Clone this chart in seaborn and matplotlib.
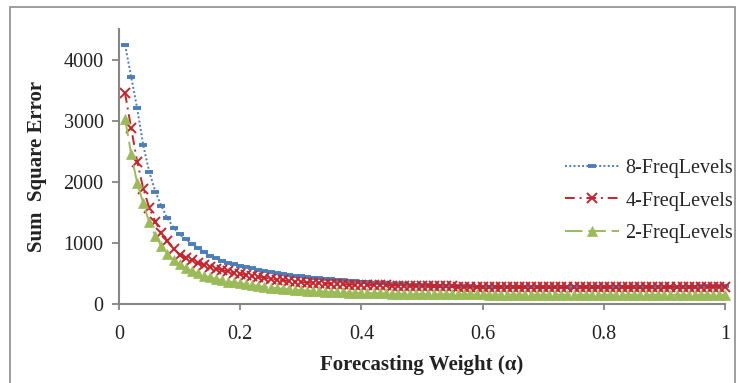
import numpy as np
import pandas as pd
import matplotlib
matplotlib.use("Agg")
import matplotlib.pyplot as plt
from matplotlib.lines import Line2D
import seaborn as sns

# Forecasting weight alpha, 0.01 .. 1.00
alpha = [round(0.01 * i, 2) for i in range(1, 101)]

sse_8 = [
    4240, 3720, 3200, 2600, 2160, 1840, 1600, 1400, 1250, 1140,
    1060, 990, 920, 850, 790, 745, 705, 675, 650, 630,
    610, 585, 560, 540, 522, 505, 490, 477, 465, 453,
    442, 432, 422, 413, 404, 396, 388, 380, 372, 365,
    357, 349, 342, 336, 330, 325, 320, 316, 312, 308,
    305, 302, 299, 296, 293, 291, 289, 287, 285, 283,
    282, 281, 280, 279, 278, 277, 277, 276, 276, 275,
    275, 275, 274, 274, 274, 274, 274, 274, 274, 275,
    275, 275, 276, 276, 277, 277, 278, 279, 280, 281,
    282, 283, 284, 285, 286, 287, 288, 289, 290, 292,
]

sse_4 = [
    3450, 2880, 2330, 1890, 1570, 1350, 1160, 1030, 900, 800,
    760, 715, 675, 640, 610, 580, 555, 535, 512, 493,
    475, 460, 445, 430, 415, 400, 388, 377, 367, 358,
    351, 345, 339, 334, 329, 325, 321, 318, 315, 312,
    310, 308, 306, 304, 302, 300, 298, 296, 295, 293,
    292, 290, 289, 288, 287, 286, 285, 284, 283, 282,
    281, 280, 280, 279, 279, 278, 278, 277, 277, 277,
    276, 276, 276, 276, 276, 276, 276, 276, 276, 276,
    276, 276, 277, 277, 277, 277, 278, 278, 278, 279,
    279, 279, 280, 280, 281, 281, 282, 282, 283, 283,
]

sse_2 = [
    3030, 2460, 1980, 1650, 1335, 1115, 950, 820, 720, 650,
    590, 540, 500, 465, 435, 410, 388, 368, 352, 337,
    322, 308, 295, 282, 270, 258, 248, 240, 232, 225,
    219, 213, 208, 203, 199, 195, 191, 188, 185, 182,
    179, 176, 174, 172, 170, 168, 167, 165, 164, 163,
    162, 161, 160, 159, 158, 158, 157, 157, 156, 156,
    155, 155, 155, 154, 154, 154, 153, 153, 153, 153,
    152, 152, 152, 152, 152, 151, 151, 151, 151, 151,
    151, 151, 151, 151, 151, 151, 151, 151, 151, 151,
    151, 151, 151, 151, 151, 151, 151, 151, 151, 151,
]

series_names = ["8-FreqLevels", "4-FreqLevels", "2-FreqLevels"]
x_ticks = [0, 0.2, 0.4, 0.6, 0.8, 1]
x_tick_labels = ["0", "0.2", "0.4", "0.6", "0.8", "1"]
y_ticks = [0, 1000, 2000, 3000, 4000]

sns.set_theme(style="white")
plt.rcParams["font.family"] = ["Liberation Serif", "DejaVu Serif"]

fig = plt.figure(figsize=(7.45, 3.83), dpi=100)
ax = fig.add_axes([119 / 745, 1 - 304 / 383, 606 / 745, 275 / 383])

blue = "#4A7EBB"
red = "#C8232B"
green = "#9BBB59"

styles = {
    "8-FreqLevels": dict(color=blue, linestyle=(0, (1, 1.2)), marker="_",
                         markersize=6, markeredgewidth=2.8),
    "4-FreqLevels": dict(color=red, linestyle=(0, (5, 2.5, 1, 2.5)), marker="x",
                         markersize=7, markeredgewidth=1.4),
    "2-FreqLevels": dict(color=green, linestyle=(0, (9, 3)), marker="^",
                         markersize=7.5, markeredgewidth=0.5),
}
values = {"8-FreqLevels": sse_8, "4-FreqLevels": sse_4, "2-FreqLevels": sse_2}

for name in series_names:
    df = pd.DataFrame({"alpha": alpha, "sse": values[name]})
    st = styles[name]
    sns.lineplot(data=df, x="alpha", y="sse", ax=ax, color=st["color"],
                 linewidth=1.4, linestyle=st["linestyle"], marker=st["marker"],
                 markersize=st["markersize"], markeredgewidth=st["markeredgewidth"],
                 markeredgecolor=st["color"], markerfacecolor=st["color"],
                 clip_on=False, label=name)

ax.set_xlim(0, 1)
ax.set_ylim(0, 4500)
ax.set_xticks(x_ticks)
ax.set_xticklabels(x_tick_labels)
ax.set_yticks(y_ticks)

axis_grey = "#868686"
for side in ["top", "right"]:
    ax.spines[side].set_visible(False)
for side in ["left", "bottom"]:
    ax.spines[side].set_color(axis_grey)
    ax.spines[side].set_linewidth(1.5)

ax.tick_params(axis="y", which="major", direction="out", length=5, width=1.3,
               color=axis_grey, labelsize=14.5, pad=6, left=True, labelcolor="#222222")
ax.tick_params(axis="x", which="major", direction="out", length=4, width=1.3,
               color=axis_grey, labelsize=14.5, pad=11, bottom=True, labelcolor="#222222")

ax.set_xlabel("Forecasting Weight (α)", fontsize=15, fontweight="bold", labelpad=8,
              color="#222222")
ax.set_ylabel("Sum  Square Error", fontsize=15, fontweight="bold", labelpad=12,
              color="#222222")

handles = [Line2D([], [], color=styles[n]["color"], linestyle=styles[n]["linestyle"],
                  linewidth=1.4, marker=styles[n]["marker"],
                  markersize=styles[n]["markersize"],
                  markeredgewidth=styles[n]["markeredgewidth"],
                  markerfacecolor=styles[n]["color"],
                  markeredgecolor=styles[n]["color"]) for n in series_names]
ax.legend(handles, series_names, loc="center left",
          bbox_to_anchor=(555 / 745, 1 - 201 / 383), bbox_transform=fig.transFigure,
          frameon=False, fontsize=14.5, handlelength=2.7, handletextpad=0.3,
          labelspacing=0.65, numpoints=1, borderpad=0)

# outer chart frame
frame = plt.Rectangle((10 / 745, -0.05), 725 / 745, 1.05 - 7 / 383,
                      transform=fig.transFigure, fill=False,
                      edgecolor="#8c8c8c", linewidth=1.2)
fig.patches.append(frame)

fig.savefig("out.png", dpi=100)
